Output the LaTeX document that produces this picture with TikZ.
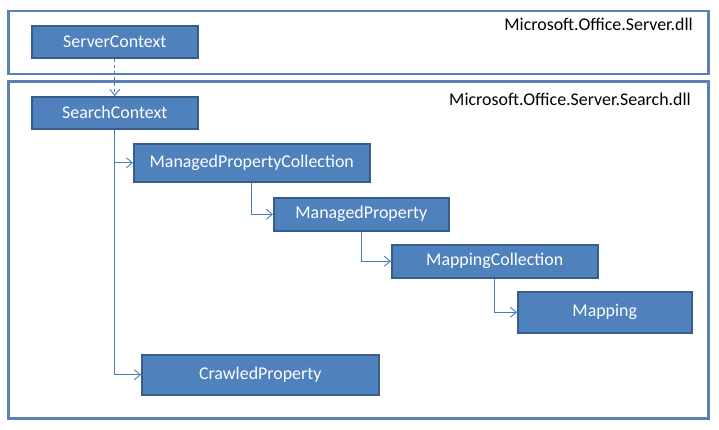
\documentclass[tikz,border=0pt]{standalone}
\usepackage{fontspec}
\setmainfont{Carlito}
\usetikzlibrary{arrows.meta}
\usetikzlibrary{positioning}
\usepackage{xcolor}
\definecolor{officeblue}{HTML}{4F81BD}
\definecolor{darkblue}{HTML}{385D8A}
\definecolor{framegrey}{HTML}{5B80B4}
\definecolor{linkblue}{HTML}{4A7EBB}

\begin{document}
\begin{tikzpicture}[
        x=1pt, y=-1pt,
        block/.style={rectangle, draw=darkblue, fill=officeblue,
          line width=1.5pt, text=white, inner sep=0pt,
          font=\fontsize{17.9}{20}\selectfont, anchor=north west},
        frame/.style={rectangle, draw=framegrey, line width=2.8pt,
          inner sep=0pt, anchor=north west},
        dll/.style={anchor=east, inner sep=0pt,
          font=\fontsize{17.9}{20}\selectfont},
        link/.style={-{Straight Barb[length=6pt, width=10pt]}, draw=linkblue,
          line width=0.9pt},
      ]
        \useasboundingbox (0,0) rectangle (719,429);

        % assemblies
        \node[frame, minimum width=700, minimum height=63] (srvdll) at (7,9.5) {};
        \node[frame, minimum width=700, minimum height=337] (searchdll) at (7,80) {};
        \node[dll] (srvname) at (693,24) {Microsoft.Office.Server.dll};
        \node[dll] (searchname) at (691,99) {Microsoft.Office.Server.Search.dll};

        % classes
        \node[block, minimum width=166, minimum height=32] (server) at (31,25) {ServerContext};
        \node[block, minimum width=166, minimum height=32] (search) at (31,96) {SearchContext};
        \node[block, minimum width=236, minimum height=38] (mpc) at (133,143) {ManagedPropertyCollection};
        \node[block, minimum width=175, minimum height=33] (mp) at (273,197) {ManagedProperty};
        \node[block, minimum width=206, minimum height=33] (mc) at (391,244) {MappingCollection};
        \node[block, minimum width=174, minimum height=41] (mapping) at (517,291) {Mapping};
        \node[block, minimum width=237, minimum height=40] (crawled) at (141,354) {CrawledProperty};

        \draw[link, dashed] (server) -- (search);
        \draw[link] (search.south) |- (mpc.west);
        \draw[link] (search.south) |- (crawled.west);
        \draw[link] (mpc.south) |- (mp.west);
        \draw[link] (mp.south) |- (mc.west);
        \draw[link] (mc.south) |- (mapping.west);
      \end{tikzpicture}
\end{document}
